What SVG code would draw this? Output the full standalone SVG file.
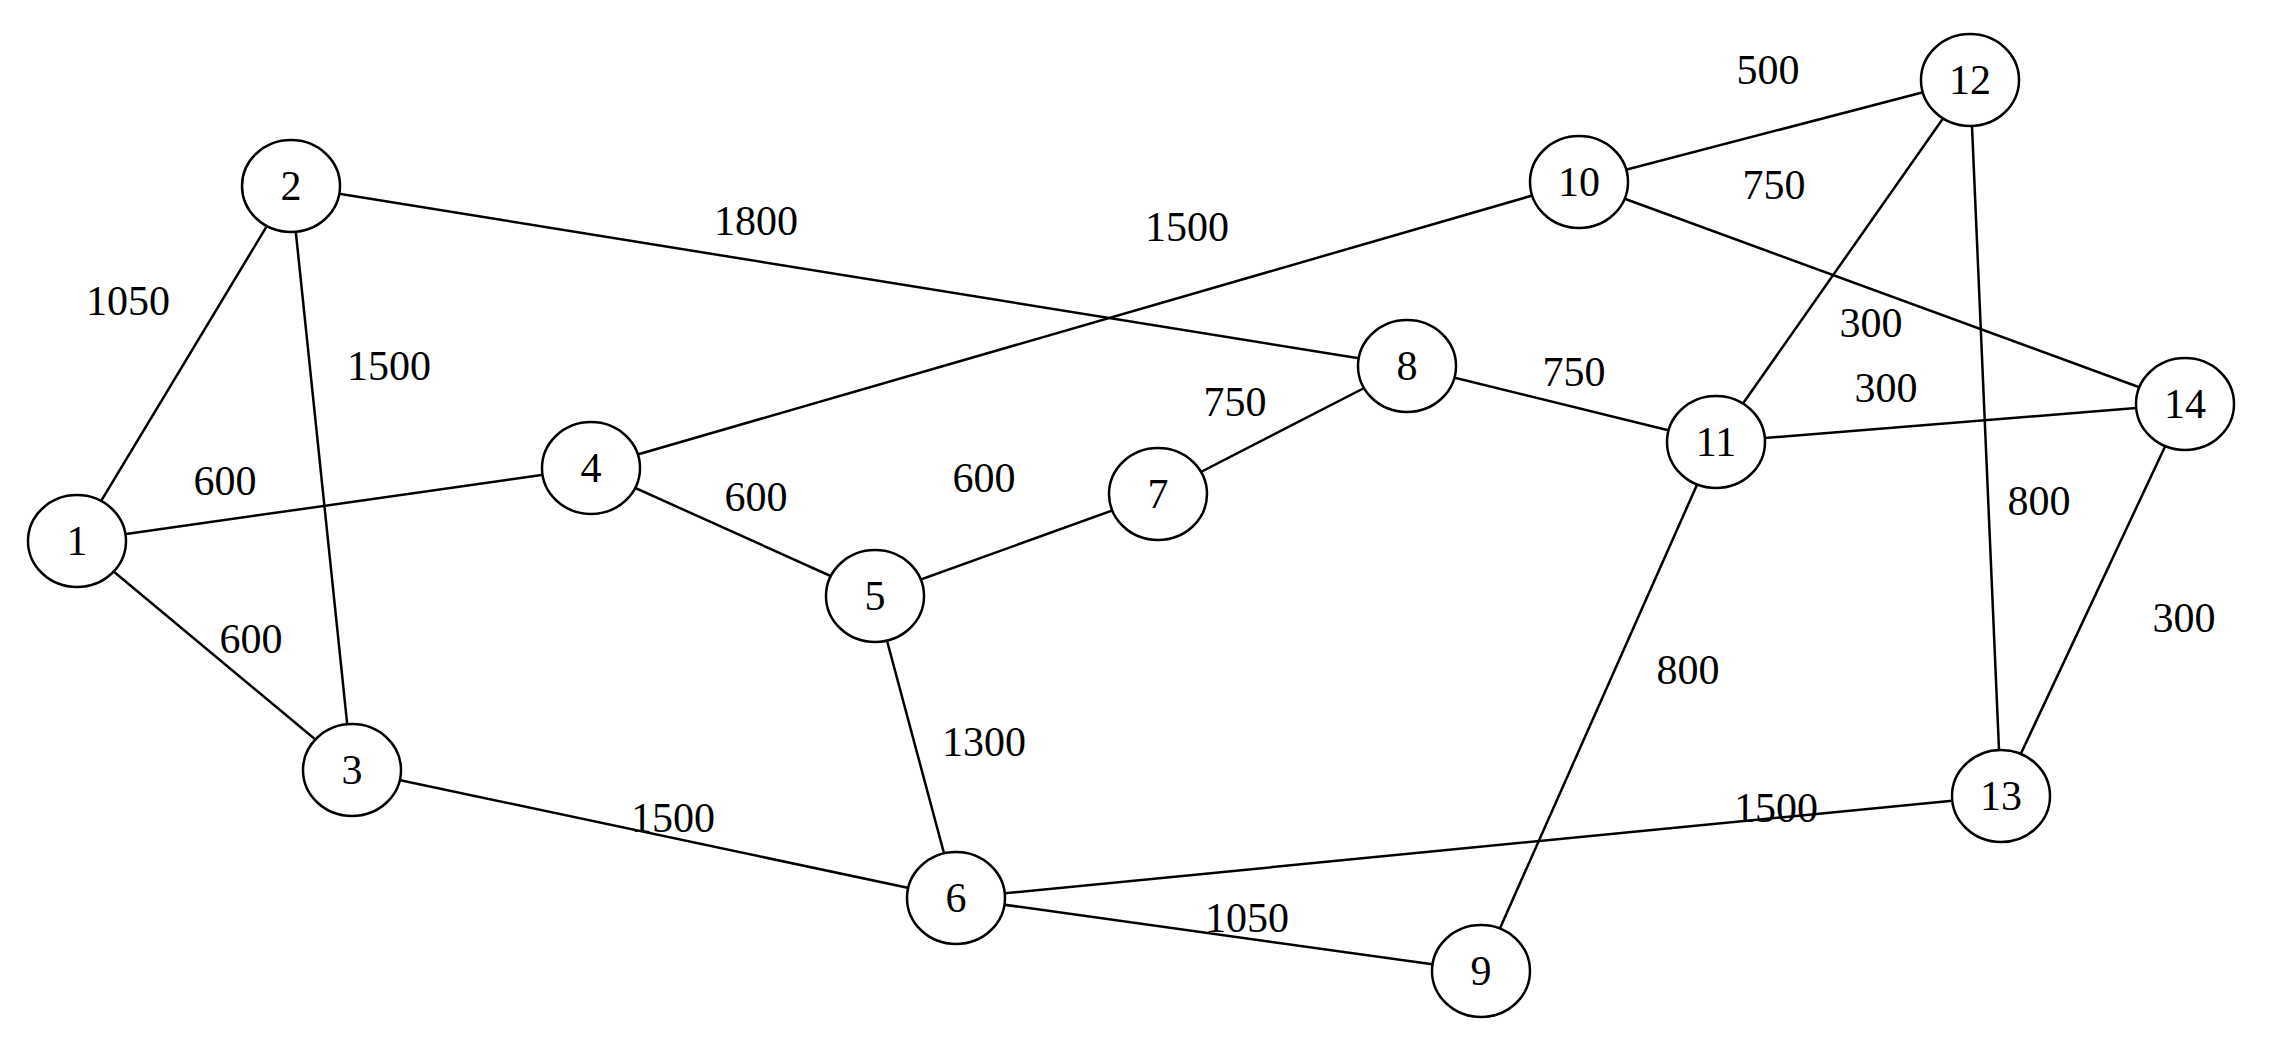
<svg xmlns="http://www.w3.org/2000/svg" width="2271" height="1041" viewBox="0 0 2271 1041">
<style>
.e line{stroke:#000;stroke-width:2.5}
.n ellipse{fill:#fff;stroke:#000;stroke-width:2.5}
text{font-family:"Liberation Serif",serif;font-size:42px;fill:#000;text-anchor:middle;dominant-baseline:central}
</style>
<rect width="2271" height="1041" fill="#fff"/>
<g id="connectors" class="e">
<line x1="77" y1="541" x2="291" y2="186"/>
<line x1="77" y1="541" x2="591" y2="468"/>
<line x1="77" y1="541" x2="352" y2="770"/>
<line x1="291" y1="186" x2="352" y2="770"/>
<line x1="291" y1="186" x2="1407" y2="366"/>
<line x1="352" y1="770" x2="956" y2="898"/>
<line x1="591" y1="468" x2="1579" y2="182"/>
<line x1="591" y1="468" x2="875" y2="596"/>
<line x1="875" y1="596" x2="1158" y2="494"/>
<line x1="875" y1="596" x2="956" y2="898"/>
<line x1="1158" y1="494" x2="1407" y2="366"/>
<line x1="1407" y1="366" x2="1716" y2="442"/>
<line x1="956" y1="898" x2="1481" y2="971"/>
<line x1="956" y1="898" x2="2001" y2="796"/>
<line x1="1481" y1="971" x2="1716" y2="442"/>
<line x1="1579" y1="182" x2="1970" y2="80"/>
<line x1="1579" y1="182" x2="2185" y2="404"/>
<line x1="1716" y1="442" x2="1970" y2="80"/>
<line x1="1716" y1="442" x2="2185" y2="404"/>
<line x1="1970" y1="80" x2="2001" y2="796"/>
<line x1="2001" y1="796" x2="2185" y2="404"/>
</g>
<g id="labels">
<text x="128" y="301">1050</text>
<text x="389" y="366">1500</text>
<text x="756" y="221">1800</text>
<text x="1187" y="227">1500</text>
<text x="1768" y="70">500</text>
<text x="1774" y="185">750</text>
<text x="225" y="481">600</text>
<text x="251" y="639">600</text>
<text x="756" y="497">600</text>
<text x="984" y="478">600</text>
<text x="1235" y="402">750</text>
<text x="1574" y="372">750</text>
<text x="1871" y="323">300</text>
<text x="1886" y="388">300</text>
<text x="2039" y="501">800</text>
<text x="2184" y="618">300</text>
<text x="1688" y="670">800</text>
<text x="984" y="742">1300</text>
<text x="673" y="818">1500</text>
<text x="1776" y="808">1500</text>
<text x="1247" y="918">1050</text>
</g>
<g id="n1" class="n"><ellipse cx="77" cy="541" rx="49" ry="46"/><text x="77" y="541">1</text></g>
<g id="n2" class="n"><ellipse cx="291" cy="186" rx="49" ry="46"/><text x="291" y="186">2</text></g>
<g id="n3" class="n"><ellipse cx="352" cy="770" rx="49" ry="46"/><text x="352" y="770">3</text></g>
<g id="n4" class="n"><ellipse cx="591" cy="468" rx="49" ry="46"/><text x="591" y="468">4</text></g>
<g id="n5" class="n"><ellipse cx="875" cy="596" rx="49" ry="46"/><text x="875" y="596">5</text></g>
<g id="n6" class="n"><ellipse cx="956" cy="898" rx="49" ry="46"/><text x="956" y="898">6</text></g>
<g id="n7" class="n"><ellipse cx="1158" cy="494" rx="49" ry="46"/><text x="1158" y="494">7</text></g>
<g id="n8" class="n"><ellipse cx="1407" cy="366" rx="49" ry="46"/><text x="1407" y="366">8</text></g>
<g id="n9" class="n"><ellipse cx="1481" cy="971" rx="49" ry="46"/><text x="1481" y="971">9</text></g>
<g id="n10" class="n"><ellipse cx="1579" cy="182" rx="49" ry="46"/><text x="1579" y="182">10</text></g>
<g id="n11" class="n"><ellipse cx="1716" cy="442" rx="49" ry="46"/><text x="1716" y="442">11</text></g>
<g id="n12" class="n"><ellipse cx="1970" cy="80" rx="49" ry="46"/><text x="1970" y="80">12</text></g>
<g id="n13" class="n"><ellipse cx="2001" cy="796" rx="49" ry="46"/><text x="2001" y="796">13</text></g>
<g id="n14" class="n"><ellipse cx="2185" cy="404" rx="49" ry="46"/><text x="2185" y="404">14</text></g>
</svg>
